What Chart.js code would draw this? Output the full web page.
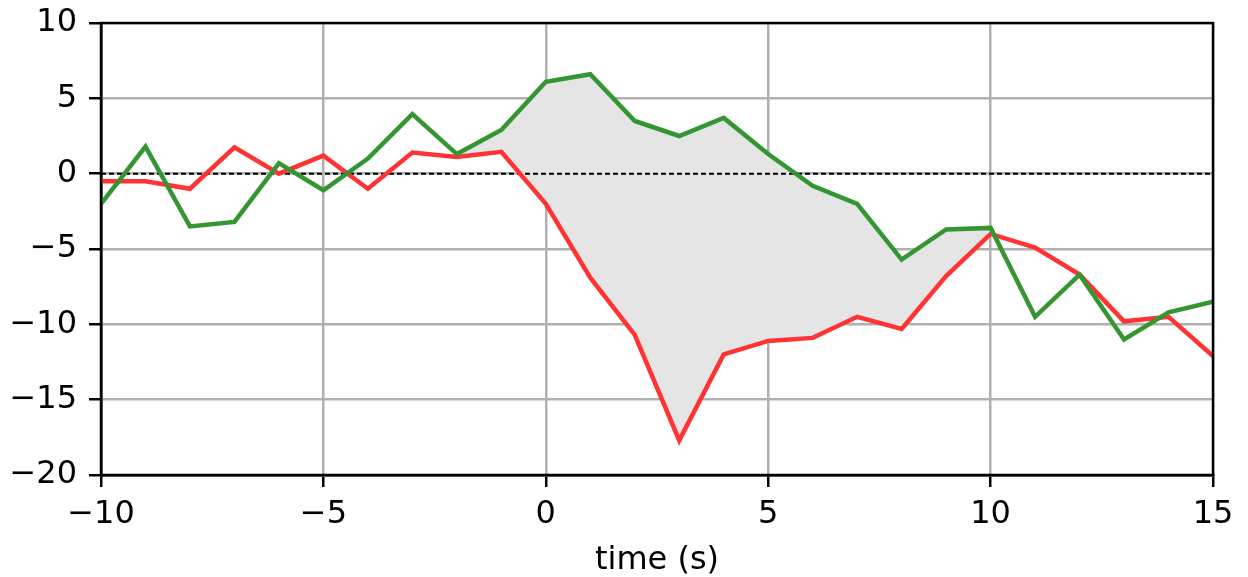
<!DOCTYPE html>
<html>
<head>
<meta charset="utf-8">
<script src="https://cdn.jsdelivr.net/npm/chart.js@4"></script>
<style>
  html, body { margin: 0; padding: 0; background: #fff; }
  #wrap { width: 1248px; height: 577px; }
</style>
</head>
<body>
<div id="wrap"><canvas id="chart1" width="1248" height="577"></canvas></div>
<script>
// data
const times = [-10, -9, -8, -7, -6, -5, -4, -3, -2, -1, 0, 1, 2, 3, 4, 5, 6, 7, 8, 9, 10, 11, 12, 13, 14, 15];
const greenValues = [-2.0, 1.8, -3.5, -3.2, 0.7, -1.1, 1.0, 3.95, 1.3, 2.9, 6.1, 6.6, 3.5, 2.5, 3.7, 1.3, -0.8, -2.0, -5.7, -3.7, -3.6, -9.5, -6.7, -11.0, -9.2, -8.5];
const redValues = [-0.5, -0.5, -1.0, 1.75, 0.0, 1.2, -1.0, 1.4, 1.1, 1.45, -2.0, -6.9, -10.7, -17.7, -12.0, -11.1, -10.9, -9.5, -10.3, -6.8, -4.0, -4.9, -6.7, -9.8, -9.5, -12.1];
const fillFrom = -2;
const fillTo = 10;
const xTicks = [-10, -5, 0, 5, 10, 15];
const yTicks = [-20, -15, -10, -5, 0, 5, 10];

const FONT = "'DejaVu Sans', sans-serif";

let pts = (vals) => times.map((t, i) => ({ x: t, y: vals[i] }));
let band = (vals) => pts(vals).filter(p => p.x >= fillFrom && p.x <= fillTo);
let minus = (v) => String(v).replace('-', '\u2212');

// box around the plot area, like matplotlib spines
const frame = {
  id: 'frame',
  afterDatasetsDraw: (chart) => {
    const a = chart.chartArea;
    const c = chart.ctx;
    c.save();
    c.strokeStyle = '#000';
    c.lineWidth = 2.5;
    c.strokeRect(a.left, a.top, a.right - a.left, a.bottom - a.top);
    c.restore();
  }
};

const dataset = {
  datasets: [
    {
      data: pts(greenValues),
      borderColor: 'rgb(51, 150, 51)',
      borderWidth: 4.5,
      pointRadius: 0,
      fill: false,
      order: 0
    },
    {
      data: pts(redValues),
      borderColor: 'rgb(255, 51, 51)',
      borderWidth: 4.5,
      pointRadius: 0,
      fill: false,
      order: 0
    },
    {
      data: [{ x: times[0], y: 0 }, { x: times[times.length - 1], y: 0 }],
      borderColor: '#000',
      borderWidth: 2,
      borderDash: [5, 3],
      pointRadius: 0,
      fill: false,
      order: 1
    },
    {
      data: band(greenValues),
      borderColor: 'transparent',
      borderWidth: 0,
      pointRadius: 0,
      backgroundColor: 'rgb(229, 229, 229)',
      fill: 4,
      order: 2
    },
    {
      data: band(redValues),
      borderColor: 'transparent',
      borderWidth: 0,
      pointRadius: 0,
      fill: false,
      order: 2
    }
  ]
};

const config = {
  type: 'line',
  data: dataset,
  plugins: [frame],
  options: {
    responsive: false,
    animation: false,
    layout: { padding: { top: 23, right: 35, left: 0, bottom: 0 } },
    plugins: { legend: { display: false }, tooltip: { enabled: false } },
    scales: {
      x: {
        type: 'linear',
        min: -10,
        max: 15,
        afterBuildTicks: (s) => { s.ticks = xTicks.map(v => ({ value: v })); },
        afterFit: (s) => { s.height = 102; s.paddingLeft = 0; s.paddingRight = 0; },
        ticks: {
          autoSkip: false,
          maxRotation: 0,
          color: '#000',
          padding: 8,
          font: { family: FONT, size: 32 },
          callback: (v) => minus(v)
        },
        grid: { color: '#b0b0b0', lineWidth: 2.5, tickLength: 12, tickColor: '#000', tickWidth: 2.5 },
        border: { color: '#000', width: 2.5 },
        title: {
          display: true,
          text: 'time (s)',
          color: '#000',
          font: { family: FONT, size: 32 },
          padding: { top: 4, bottom: -3 }
        }
      },
      y: {
        min: -20,
        max: 10,
        afterBuildTicks: (s) => { s.ticks = yTicks.map(v => ({ value: v })); },
        afterFit: (s) => { s.width = 101; s.paddingTop = 0; s.paddingBottom = 0; },
        ticks: {
          color: '#000',
          padding: 12,
          font: { family: FONT, size: 32 },
          callback: (v) => minus(v)
        },
        grid: { color: '#b0b0b0', lineWidth: 2.5, tickLength: 12, tickColor: '#000', tickWidth: 2.5 },
        border: { color: '#000', width: 2.5 }
      }
    }
  }
};

const chart = new Chart(document.getElementById('chart1'), config);
</script>
</body>
</html>
